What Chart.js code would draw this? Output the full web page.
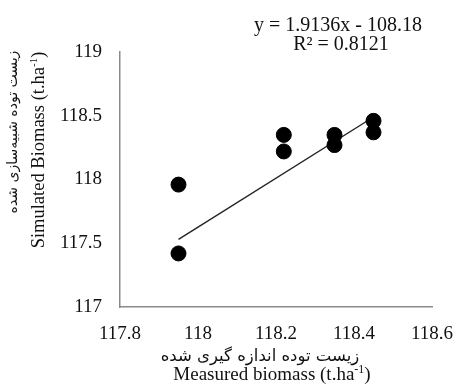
<!DOCTYPE html>
<html>
<head>
<meta charset="utf-8">
<script src="https://cdn.jsdelivr.net/npm/chart.js@4.4.0/dist/chart.umd.min.js"></script>
<style>
  html, body { margin:0; padding:0; background:#fff; }
  #wrap { width:458px; height:391px; }
</style>
</head>
<body>
<div id="wrap"><canvas id="chart" width="458" height="391"></canvas></div>
<script>
// datos
const measured  = [117.95, 117.95, 118.22, 118.22, 118.35, 118.35, 118.45, 118.45];
const simulated = [117.96, 117.42, 118.35, 118.22, 118.35, 118.27, 118.46, 118.37];
const trendX = [117.95, 118.45];
const trendY = [117.53, 118.49];
const xTicks = [117.8, 118, 118.2, 118.4, 118.6];
const yTicks = [117, 117.5, 118, 118.5, 119];

const SERIF = "'Liberation Serif', 'Times New Roman', serif";
const FA = "'DejaVu Sans', 'Noto Sans', sans-serif";

// texto con superindice (t.ha-1)
function drawRich(ctx, parts, cx, cy, size){
  ctx.textBaseline = 'alphabetic';
  ctx.textAlign = 'left';
  let w = 0;
  parts.forEach(p => {
    ctx.font = (p.sup ? Math.round(size*0.62) : size) + 'px ' + SERIF;
    p.w = ctx.measureText(p.t).width;
    w += p.w;
  });
  let x = cx - w/2;
  const base = cy + size*0.33;
  parts.forEach(p => {
    ctx.font = (p.sup ? Math.round(size*0.62) : size) + 'px ' + SERIF;
    ctx.fillText(p.t, x, p.sup ? base - size*0.38 : base);
    x += p.w;
  });
}

// texto persa centrado
function drawFa(ctx, txt, cx, cy, size){
  ctx.font = size + 'px ' + FA;
  ctx.direction = 'rtl';
  ctx.textAlign = 'center';
  ctx.textBaseline = 'middle';
  ctx.fillText(txt, cx, cy);
  ctx.direction = 'ltr';
}

const fmt = v => String(Number(v.toFixed(2)));

const labels = {
  id: 'labels',
  afterDraw(chart){
    const ctx = chart.ctx;
    ctx.save();
    ctx.fillStyle = '#111';
    // ecuacion
    ctx.font = '20px ' + SERIF;
    ctx.textAlign = 'center';
    ctx.textBaseline = 'middle';
    ctx.fillText('y = 1.9136x - 108.18', 338, 26);
    ctx.fillText('R² = 0.8121', 341, 45);
    // eje x
    drawFa(ctx, 'زیست توده اندازه گیری شده', 260, 357, 16.5);
    drawRich(ctx, [{t:'Measured biomass (t.ha'}, {t:'-1', sup:true}, {t:')'}], 272, 374, 19);
    // eje y
    ctx.save();
    ctx.translate(13, 132);
    ctx.rotate(-Math.PI/2);
    drawFa(ctx, 'زیست توده شبیه‌سازی شده', 0, 0, 14);
    ctx.restore();
    ctx.save();
    ctx.translate(38, 150);
    ctx.rotate(-Math.PI/2);
    drawRich(ctx, [{t:'Simulated Biomass (t.ha'}, {t:'-1', sup:true}, {t:')'}], 0, 0, 18.5);
    ctx.restore();
    ctx.restore();
  }
};

new Chart(document.getElementById('chart'), {
  type: 'scatter',
  data: {
    datasets: [
      {
        data: measured.map((x, i) => ({x, y: simulated[i]})),
        backgroundColor: '#000',
        borderColor: '#000',
        pointRadius: 7.5,
        pointHoverRadius: 7.5
      },
      {
        data: trendX.map((x, i) => ({x, y: trendY[i]})),
        showLine: true,
        borderColor: '#222',
        borderWidth: 1.4,
        pointRadius: 0,
        fill: false
      }
    ]
  },
  options: {
    responsive: false,
    animation: false,
    events: [],
    layout: { padding: { left: 60, right: 26, top: 52, bottom: 39 } },
    plugins: { legend: { display: false }, tooltip: { enabled: false } },
    scales: {
      x: {
        min: 117.8, max: 118.6,
        afterBuildTicks: s => { s.ticks = xTicks.map(v => ({value: v})); },
        afterFit: s => { s.height = 45; s.paddingLeft = 0; s.paddingRight = 0; },
        grid: { display: false, drawTicks: false },
        border: { color: '#8a8a8a', width: 1.5 },
        ticks: { color: '#111', padding: 16, font: { family: SERIF, size: 19 }, callback: fmt }
      },
      y: {
        min: 117, max: 119,
        afterBuildTicks: s => { s.ticks = yTicks.map(v => ({value: v})); },
        afterFit: s => { s.width = 60; s.paddingTop = 0; s.paddingBottom = 0; },
        grid: { display: false, drawTicks: false },
        border: { color: '#8a8a8a', width: 1.5 },
        ticks: { color: '#111', padding: 18, font: { family: SERIF, size: 19 }, callback: fmt }
      }
    }
  },
  plugins: [labels]
});
</script>
</body>
</html>
